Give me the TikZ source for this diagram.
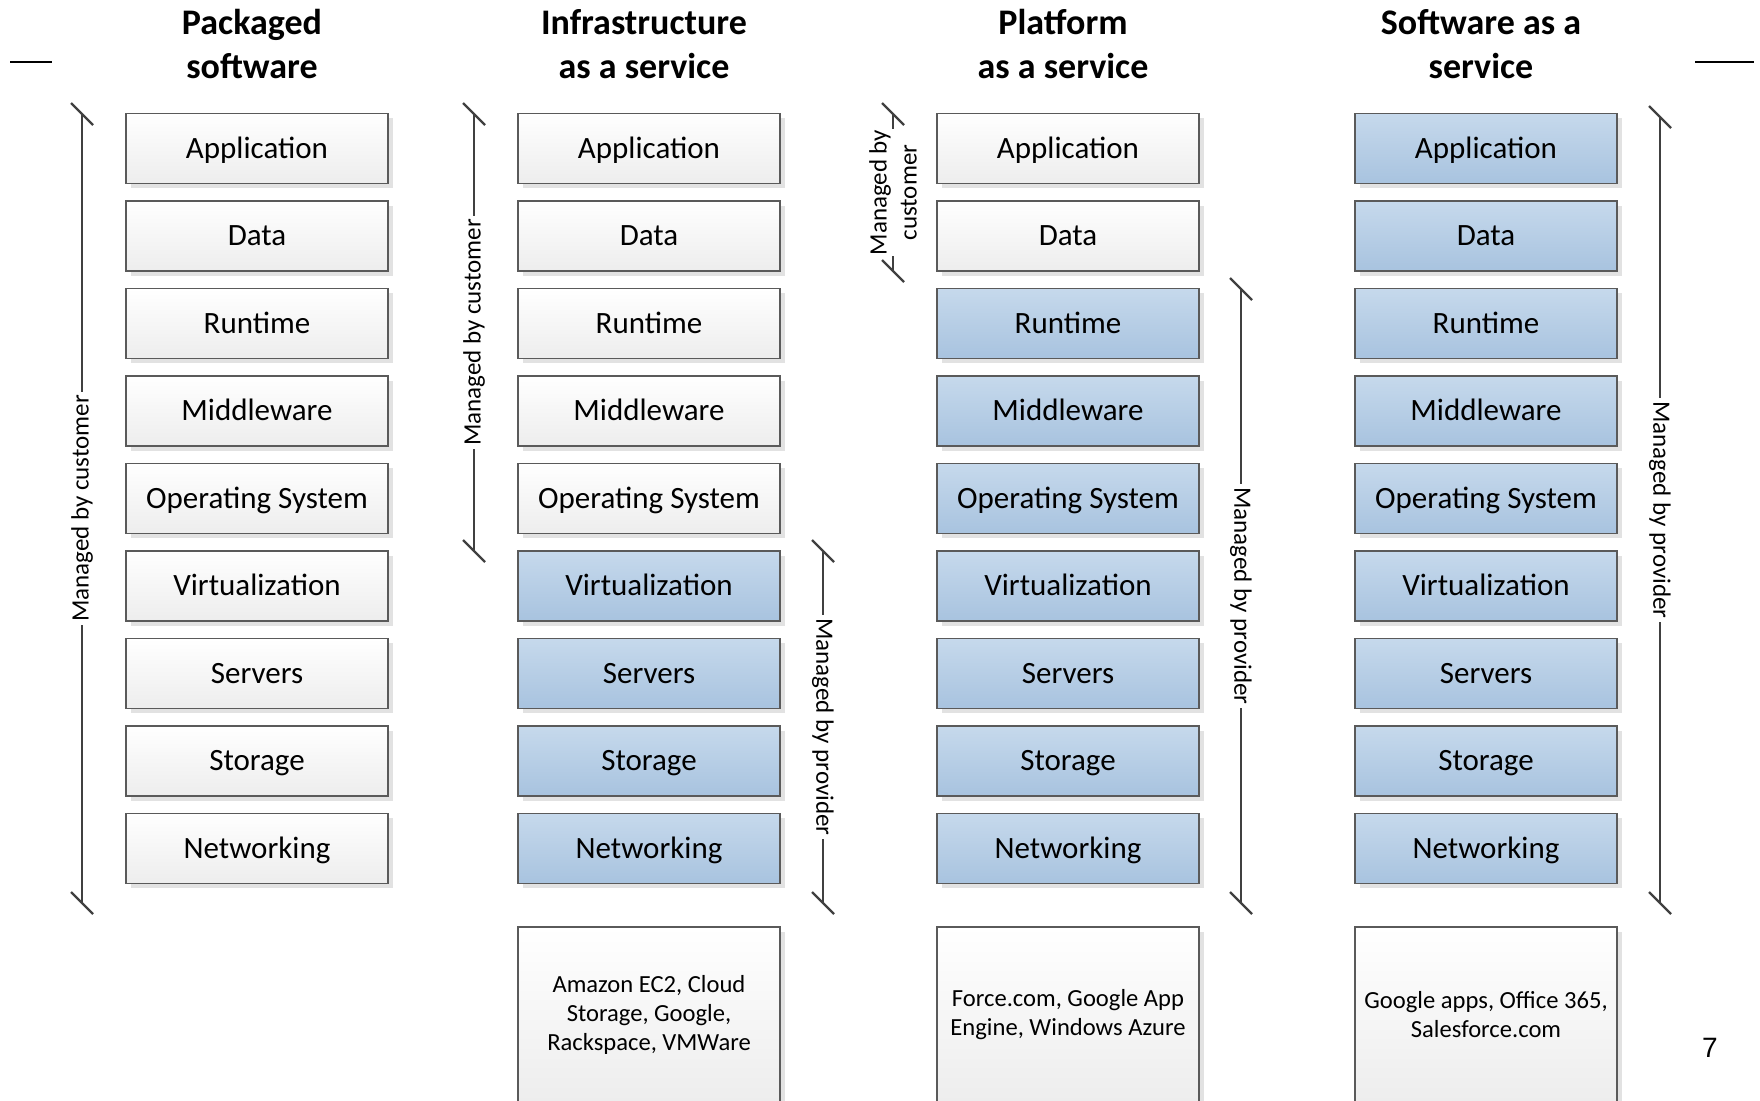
\documentclass[tikz,border=0pt]{standalone}
\usepackage{fontspec}
\setmainfont{Carlito}
\newfontfamily\arialfont{Liberation Sans}
\usetikzlibrary{shadows}
\definecolor{boxline}{HTML}{5A5A5A}
\definecolor{ownbot}{HTML}{EDEDED}
\definecolor{hosttop}{HTML}{C6D9EC}
\definecolor{hostbot}{HTML}{A8C3DF}
\definecolor{shadowgray}{HTML}{E2E2E2}
\definecolor{spangray}{HTML}{404040}
\tikzset{
    layerbox/.style={draw=boxline, line width=0.75pt, minimum width=131pt, minimum height=35pt, inner sep=0pt,
        font=\fontsize{15.5}{18}\selectfont,
        drop shadow={shadow xshift=2.5pt, shadow yshift=-2.5pt, fill=shadowgray, opacity=1}},
    ownbox/.style={layerbox, top color=white, bottom color=ownbot},
    hostbox/.style={layerbox, top color=hosttop, bottom color=hostbot},
    layertext/.style={text height=12.8pt, text depth=3pt},
    examplebox/.style={ownbox, minimum height=87.5pt, align=center, font=\fontsize{12.3}{14.5}\selectfont},
    coltitle/.style={align=center, font=\fontsize{18}{22}\selectfont\bfseries},
    spanline/.style={draw=spangray, line width=1.2pt},
    spanlabel/.style={midway, fill=white, inner sep=1.5pt, align=center, font=\fontsize{12.5}{15}\selectfont},
}
\newcommand{\spantick}[1]{\draw[spanline] (#1) ++(-11,-11) -- ++(22,22);}
\begin{document}
\begin{tikzpicture}[x=0.5pt, y=-0.5pt]
    \useasboundingbox (0,0) rectangle (1760,1100);
    % 标题
    \node[coltitle] (pk-title) at (252,44) {Packaged\\software};
    \node[coltitle] (ia-title) at (644,44) {Infrastructure\\as a service};
    \node[coltitle] (pa-title) at (1063,44) {Platform\\as a service};
    \node[coltitle] (sa-title) at (1481,44) {Software as a\\service};
    \draw[line width=1.3pt] (10,62) -- (52,62);
    \draw[line width=1.3pt] (1695,62) -- (1754,62);
    % 各层
    \foreach \col/\cx/\first in {pk/257/9, ia/649/5, pa/1068/2, sa/1486/0} {
        \foreach \layer [count=\i from 0] in {Application, Data, Runtime, Middleware, Operating System, Virtualization, Servers, Storage, Networking} {
            \ifnum\i<\first \def\boxsty{ownbox}\else \def\boxsty{hostbox}\fi
            \node[\boxsty, layertext] (\col-\i) at (\cx, 148.3+87.5*\i) {\layer};
        }
    }
    % 示例
    \node[examplebox] (ia-ex) at (649,1014.5) {Amazon EC2, Cloud\\Storage, Google,\\Rackspace, VMWare};
    \node[examplebox] (pa-ex) at (1068,1014.5) {Force.com, Google App\\Engine, Windows Azure};
    \node[examplebox] (sa-ex) at (1486,1014.5) {Google apps, Office 365,\\Salesforce.com};
    % 管理范围
    \coordinate (pk-ctop) at (82,114);
    \coordinate (pk-cbot) at (82,903);
    \coordinate (ia-ctop) at (474,114);
    \coordinate (ia-cbot) at (474,551);
    \coordinate (ia-ptop) at (823,551);
    \coordinate (ia-pbot) at (823,903);
    \coordinate (pa-ctop) at (893,114);
    \coordinate (pa-cbot) at (893,271);
    \coordinate (pa-ptop) at (1241,289);
    \coordinate (pa-pbot) at (1241,903);
    \coordinate (sa-ptop) at (1660,117);
    \coordinate (sa-pbot) at (1660,903);
    \draw[spanline] (pk-ctop) -- node[spanlabel, rotate=90] {Managed by customer} (pk-cbot);
    \draw[spanline] (ia-ctop) -- node[spanlabel, rotate=90] {Managed by customer} (ia-cbot);
    \draw[spanline] (ia-ptop) -- node[spanlabel, rotate=-90] {Managed by provider} (ia-pbot);
    \draw[spanline] (pa-ctop) -- node[spanlabel, rotate=90, inner sep=0.5pt] {Managed by\\customer} (pa-cbot);
    \draw[spanline] (pa-ptop) -- node[spanlabel, rotate=-90] {Managed by provider} (pa-pbot);
    \draw[spanline] (sa-ptop) -- node[spanlabel, rotate=-90] {Managed by provider} (sa-pbot);
    \spantick{pk-ctop} \spantick{pk-cbot}
    \spantick{ia-ctop} \spantick{ia-cbot}
    \spantick{ia-ptop} \spantick{ia-pbot}
    \spantick{pa-ctop} \spantick{pa-cbot}
    \spantick{pa-ptop} \spantick{pa-pbot}
    \spantick{sa-ptop} \spantick{sa-pbot}
    % 页码
    \node[font=\arialfont\fontsize{14}{16}\selectfont] (pageno) at (1710,1048) {7};
\end{tikzpicture}
\end{document}
